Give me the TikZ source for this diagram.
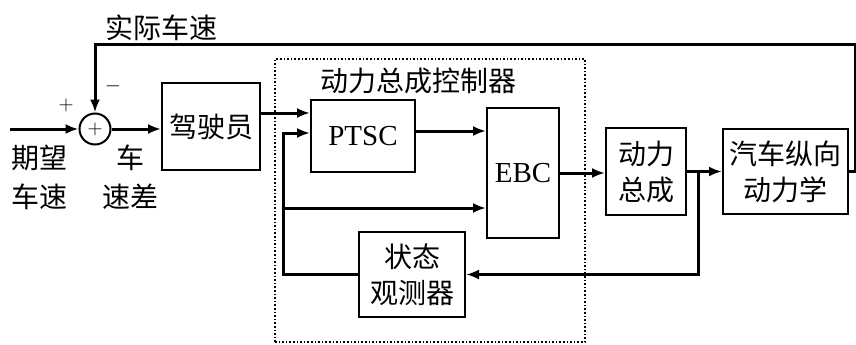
\documentclass[tikz,border=0pt]{standalone}
\usepackage{fontspec}
\setmainfont{Liberation Serif}
\newfontfamily\cjk{Noto Sans CJK SC}
\usetikzlibrary{positioning}
\usetikzlibrary{arrows.meta}

\begin{document}
\begin{tikzpicture}[x=1pt, y=-1pt,
  block/.style = {draw, line width=2pt, inner sep=0pt, align=center, font=\fontsize{28}{36}\selectfont\cjk},
  latin/.style = {font=\fontsize{29}{36}\selectfont},
  sumnode/.style = {draw, circle, line width=2pt, minimum size=31pt, inner sep=0pt, font=\fontsize{22}{22}\selectfont},
  sig/.style = {line width=3pt, -{Latex[length=13pt,width=10pt]}},
  lbl/.style = {inner sep=0pt, align=center, font=\fontsize{28}{39}\selectfont\cjk}]
  \useasboundingbox (0,0) rectangle (856,345);
  % controller frame
  \node[draw, dotted, line width=1.6pt, minimum width=310pt, minimum height=283pt](ctrl) at (430,200.5){};
  \node[lbl](ctrltxt) at (418,81){动力总成控制器};
  % blocks
  \node[sumnode](sum) at (95,129){$+$};
  \node[block, minimum width=98pt, minimum height=87pt](drv) at (211,126.5){驾驶员};
  \node[block, latin, minimum width=104pt, minimum height=72pt](ptsc) at (363,136){PTSC};
  \node[block, latin, minimum width=72pt, minimum height=130pt](ebc) at (523,173){EBC};
  \node[block, minimum width=106pt, minimum height=85pt](obs) at (412,274.5){状态\\观测器};
  \node[block, minimum width=80pt, minimum height=87pt](pwr) at (646,171.5){动力\\总成};
  \node[block, minimum width=125pt, minimum height=85pt](veh)[right=35pt of pwr]{汽车纵向\\动力学};
  % labels
  \node[lbl](fbtxt) at (161,28){实际车速};
  \node[lbl](intxt) at (40,177.5){期望\\车速};
  \node[lbl](errtxt) at (130,177.5){车\\速差};
  \node[inner sep=0pt, font=\fontsize{22}{22}\selectfont](plus) at (66,105){$+$};
  \node[inner sep=0pt, font=\fontsize{22}{22}\selectfont](minus) at (113,86){$-$};
  % junctions
  \coordinate (in) at (10,129);
  \coordinate (fbx) at (283,0);
  \coordinate (br) at ([xshift=11pt]pwr.east);
  \coordinate (fbr) at (855,45);
  % signals
  \draw[sig] (in) -- (sum.west);
  \draw[sig] (sum.east) -- (sum -| drv.west);
  \draw[sig] ([yshift=23pt]ptsc.west -| drv.east) -- ([yshift=23pt]ptsc.west);
  \draw[sig] (obs.west) -| ([yshift=3pt]ptsc.west -| fbx) -- ([yshift=3pt]ptsc.west);
  \draw[sig] ([yshift=-35pt]ebc.west -| fbx) -- ([yshift=-35pt]ebc.west);
  \draw[sig] ([yshift=5pt]ptsc.east) -- ([yshift=5pt]ptsc.east -| ebc.west);
  \draw[sig] (ebc.east) -- (ebc.east -| pwr.west);
  \draw[sig] (pwr.east) -- (veh.west);
  \draw[sig] (br) |- (obs.east);
  \draw[sig] (veh.east) -| (fbr) -| (sum.north);
\end{tikzpicture}
\end{document}
